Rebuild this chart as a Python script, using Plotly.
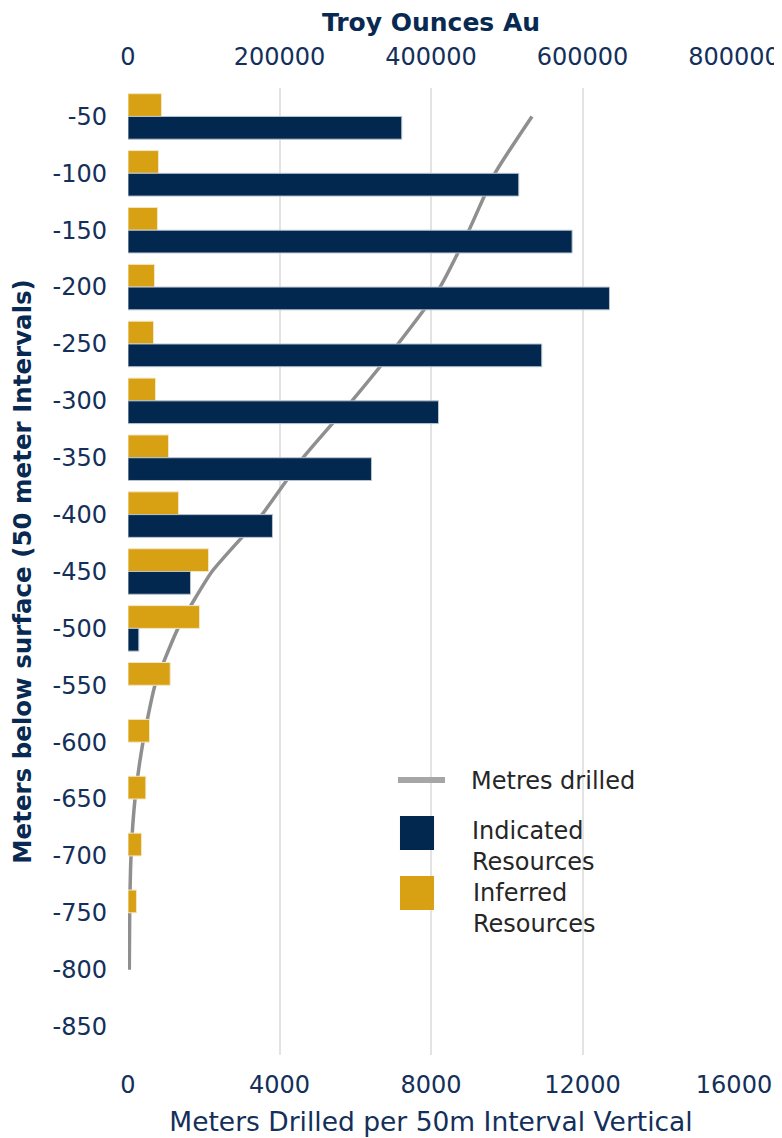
import plotly.graph_objects as go

depths = ["-50", "-100", "-150", "-200", "-250", "-300", "-350", "-400", "-450",
          "-500", "-550", "-600", "-650", "-700", "-750", "-800", "-850"]

indicated_oz = [361400, 515900, 586300, 635600, 546200, 409900, 321400, 190700,
                82500, 14300, None, None, None, None, None, None, None]
inferred_oz = [44200, 40300, 38900, 35000, 33700, 36300, 53500, 66700,
               106300, 94400, 55700, 28400, 23500, 17800, 11200, None, None]
metres_drilled = [10666, 9689, 9002, 8237, 7128, 5914, 4620, 3538,
                  2218, 1320, 713, 396, 185, 80, 45, 34]

bottom_ticks = [0, 4000, 8000, 12000, 16000]
top_ticks = [0, 200000, 400000, 600000, 800000]

NAVY = "#03284f"
GOLD = "#d8a013"
GREY = "#8f8f8f"
TXT = "#14305a"
TITLE = "#082a52"
FONT = "DejaVu Sans"

fig = go.Figure()
fig.add_trace(go.Bar(
    y=depths, x=inferred_oz, orientation="h", name="Inferred<br>Resources",
    marker=dict(color=GOLD, line=dict(color="#f3e6c4", width=1)),
    xaxis="x2", yaxis="y", showlegend=False))
fig.add_trace(go.Bar(
    y=depths, x=indicated_oz, orientation="h", name="Indicated<br>Resources",
    marker=dict(color=NAVY, line=dict(color="#b9c3cf", width=1)),
    xaxis="x2", yaxis="y", showlegend=False))
fig.add_trace(go.Scatter(
    y=depths[:len(metres_drilled)], x=metres_drilled, mode="lines", name="Metres drilled",
    line=dict(color=GREY, width=3.5, shape="spline", smoothing=0.5),
    xaxis="x", yaxis="y", showlegend=False))

# page body adds an 8px margin, so the figure is 8px smaller and offset
fig.update_layout(
    width=774, height=1130,
    margin=dict(l=120, r=48, t=80, b=83),
    paper_bgcolor="white", plot_bgcolor="white",
    barmode="group", bargap=0.2, bargroupgap=0,
    font=dict(family=FONT, color=TXT, size=24),
    xaxis=dict(
        range=[0, 16000], tickvals=bottom_ticks, tickformat="d",
        showgrid=True, gridcolor="#e3e3e3", gridwidth=2,
        zeroline=False, showline=False, ticks="", automargin=False,
        ticklabelstandoff=13,
        tickfont=dict(size=24, color=TXT),
        title=dict(text="Meters Drilled per 50m Interval Vertical",
                   font=dict(size=26.5, color=TXT), standoff=14),
    ),
    xaxis2=dict(
        range=[0, 800000], tickvals=top_ticks, tickformat="d",
        overlaying="x", side="top", anchor="y",
        showgrid=False, zeroline=False, showline=False, ticks="", automargin=False,
        ticklabelstandoff=17,
        tickfont=dict(size=24, color=TXT),
        title=dict(text="<b>Troy Ounces Au</b>",
                   font=dict(size=25, color=TITLE), standoff=12),
    ),
    yaxis=dict(
        type="category", categoryorder="array", categoryarray=depths,
        range=[len(depths) - 0.5, -0.5],
        showgrid=False, zeroline=False, showline=False, ticks="", automargin=False,
        ticklabelstandoff=20,
        tickfont=dict(size=24, color=TXT),
        title=dict(text="<b>Meters below surface (50 meter Intervals)</b>",
                   font=dict(size=24.5, color=TITLE), standoff=14),
    ),
)

# custom legend (paper coordinates)
fig.add_shape(type="line", xref="paper", yref="paper",
              x0=0.4455, x1=0.5231, y0=0.2844, y1=0.2844,
              line=dict(color="#a6a6a6", width=6))
fig.add_shape(type="rect", xref="paper", yref="paper",
              x0=0.4488, x1=0.5050, y0=0.2120, y1=0.2472,
              fillcolor=NAVY, line=dict(width=0))
fig.add_shape(type="rect", xref="paper", yref="paper",
              x0=0.4488, x1=0.5050, y0=0.1499, y1=0.1851,
              fillcolor=GOLD, line=dict(width=0))
legend_font = dict(family=FONT, size=24, color="#262626")
fig.add_annotation(xref="paper", yref="paper", x=0.5627, y=0.2834,
                   text="Metres drilled", showarrow=False,
                   xanchor="left", yanchor="middle", align="left", font=legend_font)
fig.add_annotation(xref="paper", yref="paper", x=0.5644, y=0.2151,
                   text="Indicated<br>Resources", showarrow=False,
                   xanchor="left", yanchor="middle", align="left", font=legend_font)
fig.add_annotation(xref="paper", yref="paper", x=0.5660, y=0.1515,
                   text="Inferred<br>Resources", showarrow=False,
                   xanchor="left", yanchor="middle", align="left", font=legend_font)

fig.write_html("out.html")
